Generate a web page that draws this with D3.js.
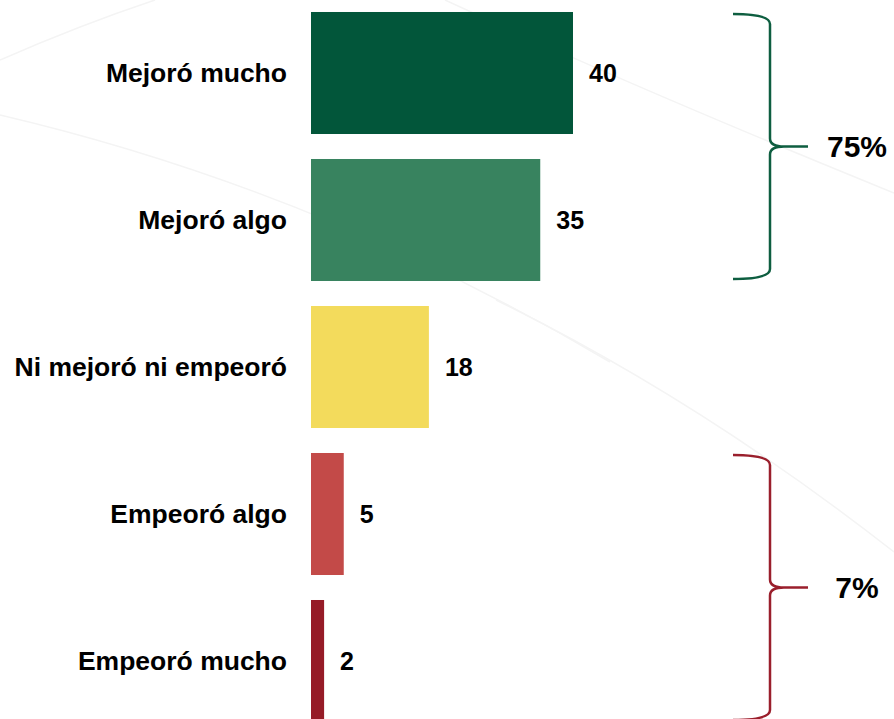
<!DOCTYPE html>
<html>
<head>
<meta charset="utf-8">
<script src="https://cdn.jsdelivr.net/npm/d3@7"></script>
<style>
  body { margin: 0; background: #fff; }
  text { font-family: "Liberation Sans", Arial, sans-serif; font-weight: bold; fill: #000; }
</style>
</head>
<body>
<div id="chart"></div>
<script>
const categories = ["Mejoró mucho", "Mejoró algo", "Ni mejoró ni empeoró", "Empeoró algo", "Empeoró mucho"];
const values = [40, 35, 18, 5, 2];
const barColors = ["#02563a", "#38835f", "#f3db5c", "#c34a48", "#961b27"];
const groups = [
    {label: "75%", from: "Mejoró mucho", to: "Mejoró algo", color: "#0e5e40"},
    {label: "7%", from: "Empeoró algo", to: "Empeoró mucho", color: "#9a1f2c"}
];

const width = 894, height = 719;

const svg = d3.select("#chart").append("svg")
    .attr("width", width)
    .attr("height", height);

// faint decorative arcs in the background
const bg = svg.append("g")
    .attr("fill", "none")
    .attr("stroke", "#f4f4f4")
    .attr("stroke-width", 1.5);
bg.append("path").attr("d", "M0,60 Q80,25 155,0");
bg.append("path").attr("d", "M0,115 Q320,190 610,362");
bg.append("path").attr("d", "M445,0 Q640,90 894,193");
bg.append("path").attr("d", "M496,300 Q700,400 894,552");

const xScale = d3.scaleLinear().domain([0, 40]).range([311, 573]);
const yScale = d3.scaleBand()
    .domain(categories)
    .range([-0.5, 734.5])
    .paddingInner(0.17)
    .paddingOuter(0.085);

const rows = categories.map((c, i) => ({cat: c, value: values[i], color: barColors[i]}));

svg.append("g").selectAll("rect")
    .data(rows)
    .join("rect")
    .attr("x", xScale(0))
    .attr("y", d => yScale(d.cat))
    .attr("width", d => xScale(d.value) - xScale(0))
    .attr("height", yScale.bandwidth())
    .attr("fill", d => d.color);

// category labels
svg.append("g").selectAll("text")
    .data(rows)
    .join("text")
    .attr("x", xScale(0) - 24)
    .attr("y", d => yScale(d.cat) + yScale.bandwidth() / 2)
    .attr("dy", "0.35em")
    .attr("text-anchor", "end")
    .style("font-size", "26.5px")
    .text(d => d.cat);

// value labels
svg.append("g").selectAll("text")
    .data(rows)
    .join("text")
    .attr("x", d => xScale(d.value) + 16)
    .attr("y", d => yScale(d.cat) + yScale.bandwidth() / 2)
    .attr("dy", "0.35em")
    .style("font-size", "25px")
    .text(d => d.value);

// curly brackets with totals
const bx0 = 733, bx1 = 770, bTip = 808;
groups.forEach(g => {
    const top = yScale(g.from) + 2;
    const bot = yScale(g.to) + yScale.bandwidth() - 2;
    const mid = (top + bot) / 2;
    const p = d3.path();
    p.moveTo(bx0, top);
    p.quadraticCurveTo(bx1, top, bx1, top + 10);
    p.lineTo(bx1, mid - 8);
    p.quadraticCurveTo(bx1, mid, bx1 + 14, mid);
    p.lineTo(bTip, mid);
    p.moveTo(bx1 + 14, mid);
    p.quadraticCurveTo(bx1, mid, bx1, mid + 8);
    p.lineTo(bx1, bot - 10);
    p.quadraticCurveTo(bx1, bot, bx0, bot);
    svg.append("path")
        .attr("d", p.toString())
        .attr("fill", "none")
        .attr("stroke", g.color)
        .attr("stroke-width", 2.5);
    svg.append("text")
        .attr("x", 857)
        .attr("y", mid)
        .attr("dy", "0.35em")
        .attr("text-anchor", "middle")
        .style("font-size", "30px")
        .text(g.label);
});
</script>
</body>
</html>
